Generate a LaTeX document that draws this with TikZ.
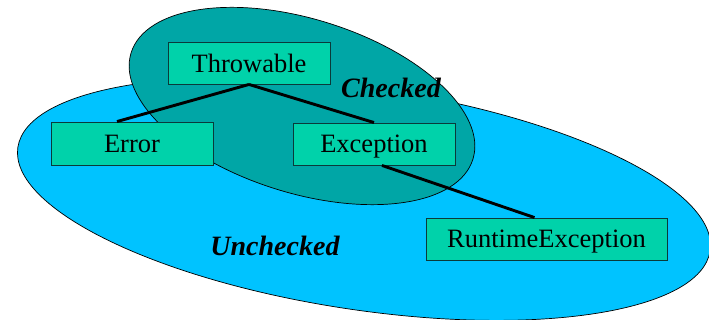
\documentclass[tikz,border=0pt]{standalone}
\usepackage{fontspec}
\setmainfont{Liberation Serif}
\usetikzlibrary{positioning}

\definecolor{skyblue}{HTML}{00C3FF}
\definecolor{darkteal}{HTML}{00A6A6}
\definecolor{boxgreen}{HTML}{00D2AA}
\definecolor{boxline}{HTML}{0A3A3A}

\tikzset{
  cls/.style={draw=boxline, line width=.9pt, fill=boxgreen, font=\fontsize{26.5}{29}\selectfont, inner sep=0pt, text depth=0pt},
  link/.style={line width=2.9pt, black},
  region/.style={font=\fontsize{28}{31}\selectfont\bfseries\itshape}
}

\begin{document}
\begin{tikzpicture}[x=1pt,y=-1pt]
        \def\unchecked{[rotate around={-8.5:(364,199)}] (364,199) ellipse [x radius=350, y radius=111]}
        \def\checked{[rotate around={-17.3:(302,106)}] (302,106) ellipse [x radius=179, y radius=87]}

        \useasboundingbox (0,0) rectangle (709,320);
        \clip (0,0) rectangle (709,320);

        % Fill both regions, outlines drawn thin
        \filldraw[fill=skyblue, draw=black, line width=.7pt] \unchecked;
        \filldraw[fill=darkteal, draw=black, line width=.7pt] \checked;

        % Class boxes
        \node[cls, minimum width=162, minimum height=42] (thr) at (249,63) {Throwable};
        \node[cls, minimum width=162, minimum height=43] (err) at (132,143.5) {Error};
        \node[cls, minimum width=162, minimum height=42] (exc) at (374,144) {Exception};
        \node[cls, minimum width=241, minimum height=42] (rte) at (546.5,239) {RuntimeException};

        % Hierarchy lines
        \draw[link] (thr.south) -- ([xshift=-15]err.north);
        \draw[link] (thr.south) -- (exc.north);
        \draw[link] ([xshift=8]exc.south) -- ([xshift=-12]rte.north);

        % Region labels
        \node[region] (chk) at (391,88) {Checked};
        \node[region] (unchk) at (275,246) {Unchecked};
    \end{tikzpicture}
\end{document}
